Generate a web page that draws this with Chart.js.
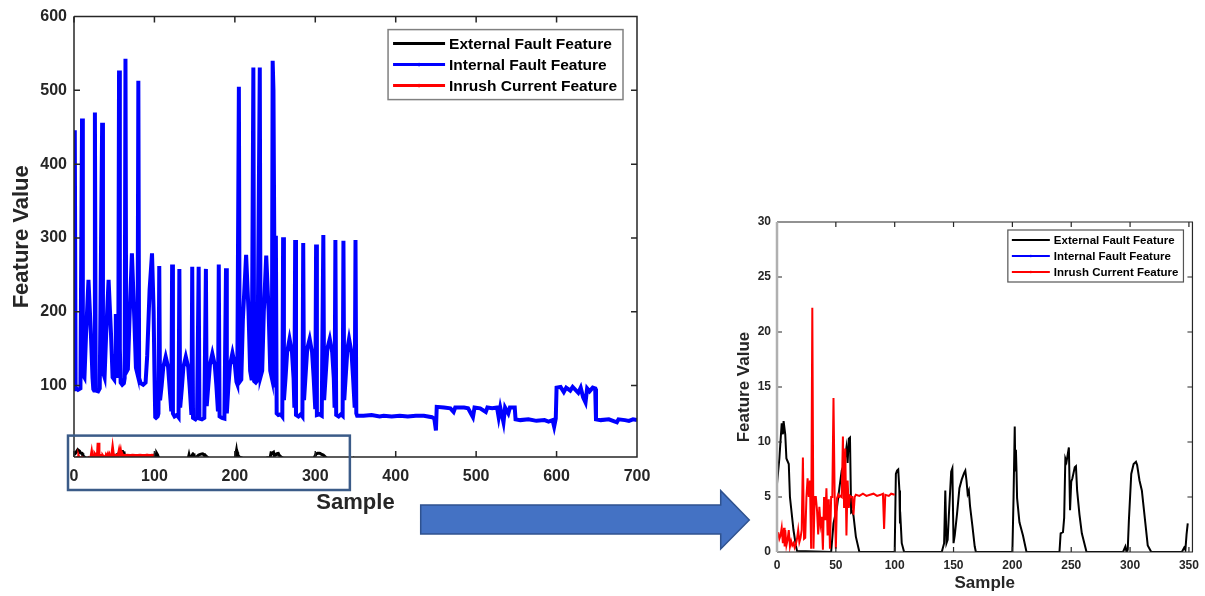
<!DOCTYPE html>
<html>
<head>
<meta charset="utf-8">
<script src="https://cdn.jsdelivr.net/npm/chart.js@4.4.1/dist/chart.umd.min.js"></script>
<style>
  html, body { margin: 0; padding: 0; background: #fff; }
  #page  { position: relative; width: 1205px; height: 596px; overflow: hidden; }
  #full  { position: absolute; left: 0; top: 0; }
  #zoom  { position: absolute; left: 730px; top: 200px; }
  #arrow { position: absolute; left: 415px; top: 485px; pointer-events: none; }
</style>
</head>
<body>
<div id="page">
  <canvas id="full" width="700" height="520"></canvas>
  <canvas id="zoom" width="475" height="396"></canvas>
  <svg id="arrow" width="340" height="70">
    <polygon points="5.7,20 305.7,20 305.7,5.7 334.3,35 305.7,64 305.7,49 5.7,49"
             fill="#4472c4" stroke="#2f528f" stroke-width="1.5"/>
  </svg>
</div>

<script>
/*
 * Feature values vs sample: full 0-700 view on the left,
 * zoomed 0-350 view (y 0-30) on the right.
 */

const FONT = "'Liberation Sans', Arial, Helvetica, sans-serif";
const INK  = '#262626';

// ── Data: [sample, feature value] vertices ─────────────────────────────────
const externalFault = [
  [0,6.2],[2,8.5],[4,11.7],[5,10.7],[5.6,11.9],[7,10.7],[8,8.5],[10,8.0],[11,5],[12,4],
  [14,2],[16,0.6],[17,0.1],[46,0],[48,2.6],[51,4.1],[53,5.8],[55,7.4],[56,7.7],[58,8.7],
  [59,9.5],[60,8.1],[61,10.3],[62,10.4],[62.5,7],[63,3.6],[64,3.7],[65,3.3],[67,1.4],[70,0],
  [100,0],[101,7.1],[102,7.4],[103,7.5],[104,5.6],[104.5,2.6],[105,2.9],[106,0.8],[108,0],
  [140,0],[142,0.8],[143,5.6],[144,0.8],[145,1.1],[146,3.3],[148,7.3],[149,7.6],[150,0.8],
  [151,1.5],[153,3.5],[155,5.8],[157,6.6],[159,7.2],[160,7.4],[161,6.5],[162,5.3],[163,5.6],
  [164,4.2],[166,2.4],[168,0.5],[169,0],
  [200,0],[201,5],[202,11.4],[202.5,7.4],[203,9.3],[203.5,7.4],[204,4.9],[206,2.7],[209,1.5],[212,0],
  [240,0],[241,1.7],[243,1.8],[244,3.1],[245,8.5],[246,8.2],[248,9.5],[249,3.8],[250,6.4],
  [251,6.7],[253,7.7],[254,7.8],[255,5.6],[257,3.4],[259,1.7],[263,0],
  [294,0],[296,0.5],[297,0],[298,0.2],[299,2.9],[301,7.1],[303,8],[305,8.2],[306,7.9],
  [308,6.5],[310,5.6],[313,2.6],[315,0.6],[318,0],
  [344,0],[346,0.4],[347,0.2],[348,1.6],[349,2.6]
];

const internalFault = [
  [0,95],[1,446],[2,97],[5,94],[8,96],[10,462],[11,115],[13,111],[15,170],[18,243],
  [21,170],[23,111],[24,95],[25,93],[26,470],[27,93],[30,92],[32,96],[35,456],[36,118],
  [38,111],[40,170],[43,243],[46,170],[48,111],[50,108],
  [51,140],[52,197],[54,150],[55,110],[56,527],[57,150],[58,104],[60,101],[62,103],[63,110],
  [64,543],[65,118],[67,122],[69,190],[72,279],[75,190],[77,124],[79,115],[80,513],[81,110],
  [83,103],[86,101],[89,104],[91,140],[94,230],[97,279],[99,200],[100,120],[101,57],
  [102,56],[104,58],[105,62],[106,262],[107,80],[109,100],[111,125],[114,139],[117,125],
  [119,95],[121,65],[122,264],[123,62],[125,58],[128,60],[130,57],[131,258],[132,70],
  [134,95],[136,125],[139,139],[142,125],[144,95],[146,60],[147,261],[148,56],[151,54],
  [153,57],[155,261],[156,55],[159,54],[162,56],[164,258],[165,72],[167,100],[169,128],
  [172,143],[175,128],[177,100],[179,65],[180,264],[181,58],[184,56],[187,55],[189,259],
  [190,62],[192,100],[194,128],[197,144],[200,128],[202,105],
  [203,102],[205,505],[206,105],[208,108],[210,190],[214,277],[217,200],[219,120],[221,107],
  [223,531],[224,106],[226,104],[228,107],[231,531],[232,112],[234,120],[236,200],[239,276],
  [242,200],[244,120],[246,110],[247,540],[248,500],[249,300],[250,100],[251,303],[252,62],
  [254,60],[257,61],[259,58],[260,301],[261,80],[263,110],[265,145],[268,163],[271,145],
  [273,110],[274,70],[275,297],[276,60],[279,58],[282,61],[284,58],[285,293],[286,80],
  [288,115],[290,150],[293,163],[296,145],[298,110],[300,68],[301,291],[302,60],[305,61],
  [308,59],[310,304],[311,80],[313,115],[315,150],[318,163],[321,145],[323,110],[324,70],
  [325,297],[326,60],[329,58],[332,61],[334,59],[335,296],[336,80],[338,115],[340,150],
  [342,163],[345,145],[347,110],[349,70],[350,297],[351,62],[352,59],
  [360,59],[370,60],[380,58],[385,59],[395,58],[405,59],[415,58],[425,59],[435,59],[445,57],
  [448,55],[450,39],[451,71],[460,70],[468,69],[472,64],[474,70],[485,70],[490,69],[496,57],
  [498,70],[505,69],[512,64],[514,70],[520,69],[526,70],[528,57],[530,70],[534,50],[536,70],
  [540,62],[542,70],[548,70],[549,54],[555,53],[565,54],[575,52],[585,53],[590,51],[595,53],
  [597,44],[599,55],[600,97],[605,98],[609,91],[612,97],[617,93],[620,98],[627,90],[630,97],
  [633,84],[636,77],[638,96],[641,92],[645,97],[648,96],[649,54],[655,53],[665,54],[675,50],
  [677,54],[685,53],[690,52],[695,54],[700,53]
];

const inrushCurrent = [
  [1,1.8],[2,1.2],[3,1.5],[4,2.2],[5,0.8],[6,2.2],[6.5,0.5],[7,2],[8,0.6],[9,1.1],[10,2.0],
  [11,0.5],[12,1.0],[13,0.6],[14,0.8],[15,0.4],[16,0.7],[17,1.2],[18,2.0],[19,0.9],[20,1.3],
  [21,2],[22,8.6],[23,1.2],[24,1.3],[25,5],[26,6.7],[27,5],[28,6.5],[29,0.3],[30,22.2],
  [31,0.3],[32,5],[33,5],[34,3.8],[35,1.6],[36,4.1],[37,2.5],[38,3.2],[39,0.2],[40,5],
  [41,2.9],[42,5.8],[43,1.5],[44,4.8],[45,0.3],[46,5],[47,5],[48,14],[49,5],[50,0.3],
  [51,4.9],[52,5.2],[53,5.0],[54,5.1],[55,5],[56,10.5],[57,4],[58,9.4],[59,1.5],[60,6.5],
  [61,4],[62,5.1],[63,5],[64,5],[65,3.4],[66,5],[67,5.2],[70,5.1],[73,5.3],[76,5.1],
  [79,5.2],[82,5.3],[85,5.1],[88,5.2],[90,5.3],[91,2.1],[92,5.2],[95,5.1],[97,5.3],[100,5.2]
];

const seriesLabels = ['External Fault Feature', 'Internal Fault Feature', 'Inrush Current Feature'];
const seriesColors = ['#000000', '#0000ff', '#ff0000'];

const fullXTicks = [0, 100, 200, 300, 400, 500, 600, 700];
const fullYTicks = [100, 200, 300, 400, 500, 600];
const zoomXTicks = [0, 50, 100, 150, 200, 250, 300, 350];
const zoomYTicks = [0, 5, 10, 15, 20, 25, 30];

// ── Datasets ──────────────────────────────────────────────────────────────
function makeDatasets(widths) {
  return [externalFault, internalFault, inrushCurrent].map((s, i) => ({
    label:           seriesLabels[i],
    data:            s.map(([x, y]) => ({ x, y })),
    borderColor:     seriesColors[i],
    backgroundColor: seriesColors[i],
    borderWidth:     widths[i],
    pointRadius:     0,
    tension:         0,
    fill:            false,
    clip:            0,
    order:           3 - i,     // later series on top, like the original plot
    marker:          i > 0,
  }));
}

// ── Axes ──────────────────────────────────────────────────────────────────
function axis({ min, max, ticks, size, pad, title, titleSize, titlePad, fixed, isX }) {
  return {
    type: 'linear',
    min, max,
    afterBuildTicks: s => { s.ticks = ticks.map(value => ({ value })); },
    afterFit:        s => { if (isX) s.height = fixed; else s.width = fixed; },
    grid:   { display: false, drawTicks: false },
    border: { display: false },
    ticks: {
      color: INK,
      font: { family: FONT, size, weight: 'bold' },
      padding: pad,
      autoSkip: false,
      maxRotation: 0,
    },
    title: {
      display: true,
      text: title,
      color: INK,
      font: { family: FONT, size: titleSize, weight: 'bold' },
      padding: titlePad,
    },
  };
}

// ── Box + inward tick marks (MATLAB style) ────────────────────────────────
const axesBox = {
  id: 'axesBox',
  afterDatasetsDraw(chart, args, o) {
    const { ctx, chartArea: a, scales: { x, y } } = chart;
    ctx.save();
    ctx.strokeStyle = INK;
    ctx.lineWidth = o.width;
    ctx.beginPath();
    for (const t of x.ticks) {
      const px = x.getPixelForValue(t.value);
      ctx.moveTo(px, a.bottom); ctx.lineTo(px, a.bottom - o.len);
      ctx.moveTo(px, a.top);    ctx.lineTo(px, a.top + o.len);
    }
    for (const t of y.ticks) {
      const py = y.getPixelForValue(t.value);
      ctx.moveTo(a.left, py);  ctx.lineTo(a.left + o.len, py);
      ctx.moveTo(a.right, py); ctx.lineTo(a.right - o.len, py);
    }
    ctx.moveTo(a.left, a.top);
    ctx.lineTo(a.right, a.top);
    ctx.lineTo(a.right, a.bottom);
    ctx.lineTo(a.left, a.bottom);
    ctx.stroke();

    ctx.strokeStyle = o.leftColor;
    ctx.lineWidth = o.leftWidth;
    ctx.beginPath();
    ctx.moveTo(a.left, a.top);
    ctx.lineTo(a.left, a.bottom);
    ctx.stroke();
    ctx.restore();
  },
};

// ── Legend box inside the plot, top-right ─────────────────────────────────
const boxLegend = {
  id: 'boxLegend',
  afterDraw(chart, args, o) {
    const { ctx, chartArea: a } = chart;
    const sets = chart.data.datasets;
    ctx.save();
    ctx.font = `bold ${o.size}px ${FONT}`;
    const textW = Math.max(...sets.map(d => ctx.measureText(d.label).width));
    const w = o.padL + o.lineLen + o.gap + textW + o.padR;
    const h = o.padY * 2 + o.row * (sets.length - 1);
    const left = a.right - o.right - w;
    const top  = a.top + o.top;

    ctx.fillStyle = '#fff';
    ctx.fillRect(left, top, w, h);
    ctx.strokeStyle = o.border;
    ctx.lineWidth = o.borderWidth;
    ctx.strokeRect(left, top, w, h);

    sets.forEach((d, i) => {
      const cy = top + o.padY + i * o.row;
      const x0 = left + o.padL;
      ctx.strokeStyle = d.borderColor;
      ctx.lineWidth = o.lineWidth;
      ctx.beginPath();
      ctx.moveTo(x0, cy);
      ctx.lineTo(x0 + o.lineLen, cy);
      ctx.stroke();
      if (d.marker) {
        ctx.fillStyle = d.borderColor;
        ctx.beginPath();
        ctx.arc(x0 + o.lineLen / 2, cy, o.lineWidth * 0.6, 0, Math.PI * 2);
        ctx.fill();
      }
      ctx.fillStyle = '#000';
      ctx.textAlign = 'left';
      ctx.textBaseline = 'middle';
      ctx.fillText(d.label, x0 + o.lineLen + o.gap, cy + 1);
    });
    ctx.restore();
  },
};

// ── Outline of the region shown in the zoomed view ────────────────────────
const zoomFrame = {
  id: 'zoomFrame',
  afterDraw(chart, args, o) {
    const { ctx, chartArea: a, scales: { x, y } } = chart;
    const l = x.getPixelForValue(o.from) - o.padLeft;
    const r = x.getPixelForValue(o.to);
    const t = y.getPixelForValue(o.top);
    const b = a.bottom + o.below;
    ctx.save();
    ctx.strokeStyle = o.color;
    ctx.lineWidth = o.width;
    ctx.strokeRect(l, t, r - l, b - t);
    ctx.restore();
  },
};

// ── Full view ─────────────────────────────────────────────────────────────
new Chart(document.getElementById('full'), {
  type: 'line',
  data: { datasets: makeDatasets([3, 4, 3]) },
  options: {
    responsive: false,
    animation: false,
    events: [],
    layout: { padding: { top: 14, right: 63, left: 0, bottom: 0 } },
    plugins: {
      legend:  { display: false },
      tooltip: { enabled: false },
      axesBox: { width: 1.5, len: 6, leftColor: INK, leftWidth: 1.5 },
      boxLegend: {
        size: 15.5, row: 21, padY: 14, padL: 5, lineLen: 52, gap: 4, padR: 6,
        right: 14, top: 13, lineWidth: 3, border: '#808080', borderWidth: 1.5,
      },
      zoomFrame: { from: 0, to: 343, top: 32, padLeft: 6, below: 33, color: '#3b5b88', width: 2.5 },
    },
    scales: {
      x: axis({ min: 0, max: 700, ticks: fullXTicks, size: 16, pad: 10,
                title: 'Sample', titleSize: 22, titlePad: { top: 0, bottom: 4 }, fixed: 63, isX: true }),
      y: axis({ min: 3, max: 600, ticks: fullYTicks, size: 16, pad: 7,
                title: 'Feature Value', titleSize: 22, titlePad: { top: 9, bottom: 0 }, fixed: 74, isX: false }),
    },
  },
  plugins: [axesBox, boxLegend, zoomFrame],
});

// ── Zoomed view ───────────────────────────────────────────────────────────
new Chart(document.getElementById('zoom'), {
  type: 'line',
  data: { datasets: makeDatasets([2, 2, 2]) },
  options: {
    responsive: false,
    animation: false,
    events: [],
    layout: { padding: { top: 22, right: 8, left: 0, bottom: 0 } },
    plugins: {
      legend:  { display: false },
      tooltip: { enabled: false },
      axesBox: { width: 1.2, len: 5, leftColor: '#b0b0b0', leftWidth: 2.5 },
      boxLegend: {
        size: 11.5, row: 16, padY: 10, padL: 4, lineLen: 38, gap: 4, padR: 5,
        right: 9, top: 8, lineWidth: 2, border: '#555555', borderWidth: 1.2,
      },
    },
    scales: {
      x: axis({ min: 0, max: 353, ticks: zoomXTicks, size: 12, pad: 6,
                title: 'Sample', titleSize: 17, titlePad: { top: 0, bottom: 2 }, fixed: 44, isX: true }),
      y: axis({ min: 0, max: 30, ticks: zoomYTicks, size: 12, pad: 6,
                title: 'Feature Value', titleSize: 17, titlePad: { top: 4, bottom: 0 }, fixed: 47, isX: false }),
    },
  },
  plugins: [axesBox, boxLegend],
});
</script>
</body>
</html>
